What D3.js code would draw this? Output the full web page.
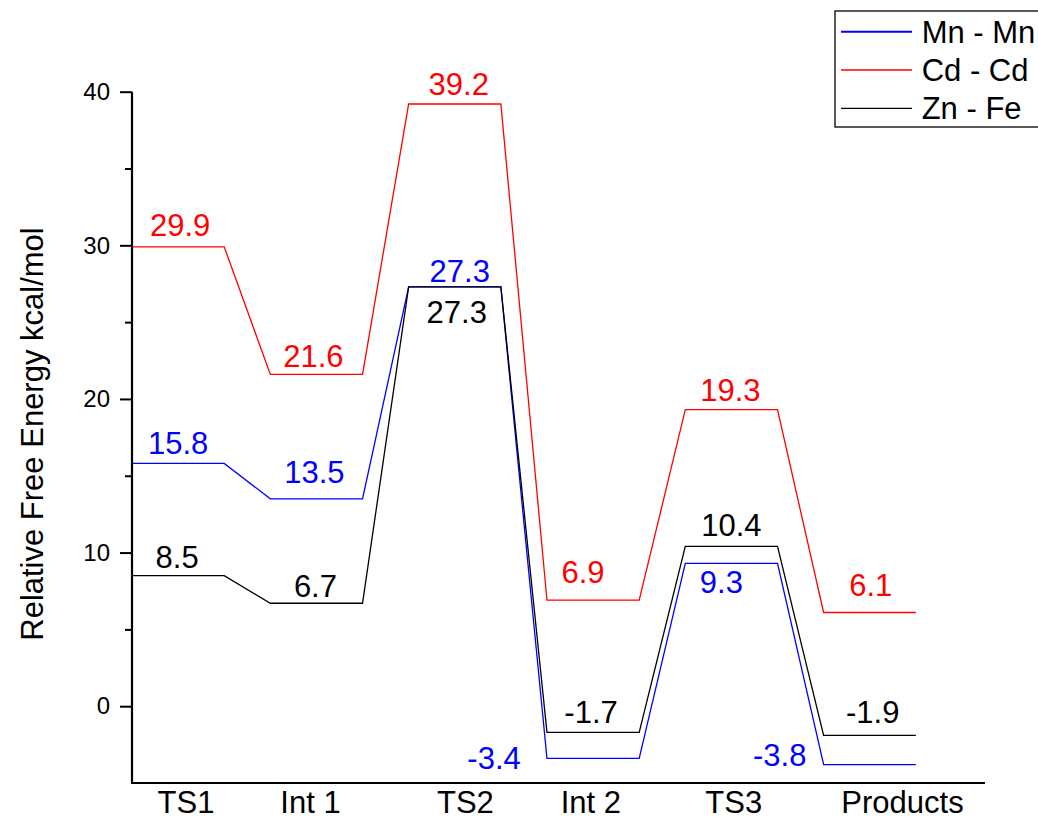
<!DOCTYPE html>
<html>
<head>
<meta charset="utf-8">
<script src="https://cdn.jsdelivr.net/npm/d3@7"></script>
<style>
  html, body { margin: 0; padding: 0; background: #fff; }
  svg { display: block; font-family: "Liberation Sans", Arial, sans-serif; }
</style>
</head>
<body>
<svg id="chart" width="1038" height="820"></svg>
<script>
// Reaction steps along the pathway
const steps = ["TS1", "Int 1", "TS2", "Int 2", "TS3", "Products"];

// Relative free energies (kcal/mol) for each metal pair
const mnMn = [15.8, 13.5, 27.3, -3.4, 9.3, -3.8];
const cdCd = [29.9, 21.6, 39.2, 6.9, 19.3, 6.1];
const znFe = [8.5, 6.7, 27.3, -1.7, 10.4, -1.9];

// Series names
const seriesNames = ["Mn - Mn", "Cd - Cd", "Zn - Fe"];

// Y axis ticks
const yMajorTicks = [0, 10, 20, 30, 40];
const yMinorTicks = [5, 15, 25, 35];

// ---- layout ----
const FONT_BIG = 31, FONT_TICK = 24;
const colors = ["#0000ff", "#ff0000", "#000000"];

// Each step occupies [1.5*i, 1.5*i + 1] in slot units
const x = d3.scaleLinear().domain([0, 9.25]).range([132, 985]);
const y = d3.scaleLinear().domain([-5, 40]).range([783, 91.7]);

// Where the step names sit on the bottom axis (slot units)
const categoryTickAt = [0.58, 1.93, 3.61, 4.97, 6.52, 8.35];

// Value-label offsets [dx, dy] in px from the level's centre / level line
const labelOffsets = [
  [[0, -9], [-2, -16], [5, -4.5], [-99, 10.6], [-10, 29.4], [-90, 1.4]],
  [[2, -11], [-3, -7], [4, -9], [-10, -17], [-1, -9], [1, -16]],
  [[-1, -8], [-1, -6], [2, 36], [-2, -9.3], [0, -10.4], [3, -12]]
];

const svg = d3.select("#chart");

const series = [mnMn, cdCd, znFe].map((vals, k) => ({
  name: seriesNames[k],
  color: colors[k],
  values: vals,
  offsets: labelOffsets[k]
}));

// ---- energy level paths ----
const line = d3.line().x(d => x(d[0])).y(d => y(d[1]));
const levelPoints = vals => vals.flatMap((v, i) => [[1.5 * i, v], [1.5 * i + 1, v]]);

svg.append("g")
  .selectAll("path")
  .data(series)
  .join("path")
  .attr("d", s => line(levelPoints(s.values)))
  .attr("fill", "none")
  .attr("stroke", s => s.color)
  .attr("stroke-width", 1.3)
  .attr("stroke-linejoin", "miter");

// ---- value labels ----
series.forEach(s => {
  svg.append("g")
    .selectAll("text")
    .data(s.values)
    .join("text")
    .attr("x", (v, i) => x(1.5 * i + 0.5) + s.offsets[i][0])
    .attr("y", (v, i) => y(v) + s.offsets[i][1])
    .attr("text-anchor", "middle")
    .attr("font-size", FONT_BIG)
    .attr("fill", s.color)
    .text(v => v.toFixed(1));
});

// ---- Y axis ----
const yAxis = svg.append("g").attr("transform", `translate(${x(0)},0)`);
yAxis.call(d3.axisLeft(y).tickValues(yMajorTicks).tickSize(12).tickPadding(10).tickFormat(d3.format("d")));
yAxis.select(".domain").attr("stroke-width", 2.2).attr("d", `M0,${y(-5)}V${y(40)}`);
yAxis.selectAll(".tick line").attr("stroke-width", 2);
yAxis.selectAll(".tick text")
  .attr("font-size", FONT_TICK)
  .attr("font-family", "Liberation Sans, Arial, sans-serif")
  .attr("fill", "#000");

const yMinor = svg.append("g").attr("transform", `translate(${x(0)},0)`);
yMinor.call(d3.axisLeft(y).tickValues(yMinorTicks).tickSize(7).tickFormat(""));
yMinor.select(".domain").remove();
yMinor.selectAll(".tick line").attr("stroke-width", 2);

// ---- X axis ----
const xAxis = svg.append("g").attr("transform", `translate(0,${y(-5)})`);
xAxis.call(d3.axisBottom(x).tickValues(categoryTickAt).tickSize(0).tickPadding(10)
  .tickFormat((d, i) => steps[i]));
xAxis.select(".domain").attr("stroke-width", 2.2).attr("d", `M${x(0) - 1},0H${x(9.25)}`);
xAxis.selectAll(".tick text")
  .attr("font-size", FONT_BIG)
  .attr("font-family", "Liberation Sans, Arial, sans-serif")
  .attr("fill", "#000")
  .attr("dy", null)
  .attr("y", 30);

// ---- Y axis title ----
svg.append("text")
  .attr("transform", `translate(42.7,434) rotate(-90)`)
  .attr("text-anchor", "middle")
  .attr("font-size", FONT_BIG)
  .attr("fill", "#000")
  .text("Relative Free Energy kcal/mol");

// ---- legend ----
const legend = svg.append("g");
legend.append("rect")
  .attr("x", 835).attr("y", 11)
  .attr("width", 230).attr("height", 116)
  .attr("fill", "#fff")
  .attr("stroke", "#000")
  .attr("stroke-width", 1.3);

const rows = legend.selectAll("g.row")
  .data(series)
  .join("g")
  .attr("class", "row")
  .attr("transform", (s, i) => `translate(0,${31.7 + i * 38.3})`);

rows.append("line")
  .attr("x1", 841).attr("x2", 912)
  .attr("y1", 0).attr("y2", 0)
  .attr("stroke", s => s.color)
  .attr("stroke-width", (s, i) => i === 0 ? 2 : 1.3);

rows.append("text")
  .attr("x", 921.7)
  .attr("y", 11)
  .attr("font-size", FONT_BIG)
  .attr("fill", "#000")
  .text(s => s.name);
</script>
</body>
</html>
